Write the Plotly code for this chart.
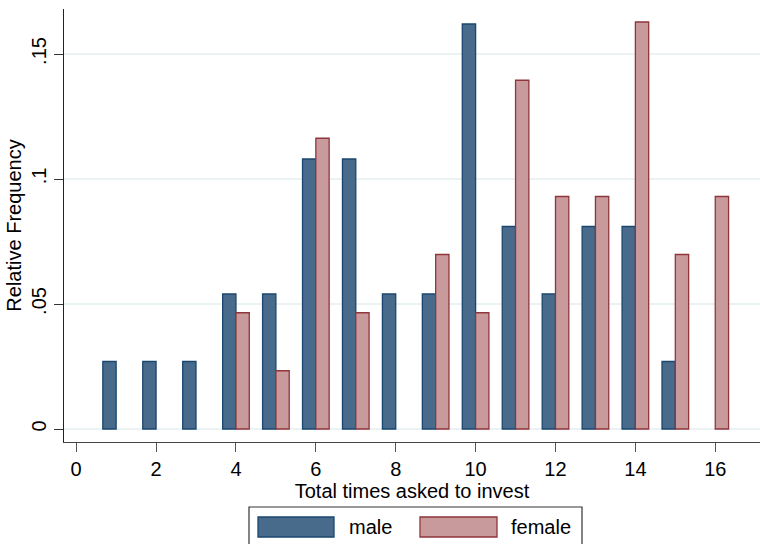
import plotly.graph_objects as go

# Times asked to invest (x positions of the bars)
times = list(range(1, 17))

# Relative frequency by sex (None = no observations at that count)
male_freq = [0.027, 0.027, 0.027, 0.054, 0.054, 0.108, 0.108, 0.054,
             0.054, 0.162, 0.081, 0.054, 0.081, 0.081, 0.027, None]
female_freq = [None, None, None, 0.0465, 0.0233, 0.1163, 0.0465, None,
               0.0698, 0.0465, 0.1395, 0.0930, 0.0930, 0.1628, 0.0698, 0.0930]

x_ticks = [0, 2, 4, 6, 8, 10, 12, 14, 16]
y_ticks = [0, 0.05, 0.1, 0.15]
y_tick_text = ["0", ".05", ".1", ".15"]

series_names = ["male", "female"]
fill_colors = ["#486a8b", "#c89a9c"]
line_colors = ["#1a476f", "#90353b"]

FONT = "Liberation Sans, Arial, sans-serif"
W, H = 760, 544
ML, MR, MT, MB = 64, 0, 9, 102

fig = go.Figure()
for name, vals, fc, lc in zip(series_names, [male_freq, female_freq],
                              fill_colors, line_colors):
    fig.add_trace(go.Bar(
        x=times, y=vals, name=name,
        marker=dict(color=fc, line=dict(color=lc, width=1.3)),
        showlegend=False,
    ))

fig.update_layout(
    width=W, height=H, autosize=False,
    margin=dict(l=ML, r=MR, t=MT, b=MB, pad=0),
    paper_bgcolor="white", plot_bgcolor="white",
    barmode="group", bargap=1/3, bargroupgap=0,
    font=dict(family=FONT, size=20, color="#000000"),
)

fig.update_xaxes(
    range=[-0.305, 17.12],
    tickmode="array", tickvals=x_ticks,
    ticks="outside", ticklen=9, tickwidth=1.3, tickcolor="#555555",
    showline=True, linecolor="#444444", linewidth=1.3,
    showgrid=False, zeroline=False,
    tickfont=dict(size=20),
    title=dict(text="Total times asked to invest", font=dict(size=20), standoff=0),
)
fig.update_yaxes(
    range=[-0.0052, 0.168],
    tickmode="array", tickvals=y_ticks, ticktext=y_tick_text,
    tickangle=-90,
    ticks="outside", ticklen=9, tickwidth=1.3, tickcolor="#333333",
    showline=True, linecolor="#222222", linewidth=1.3,
    showgrid=True, gridcolor="#eaf2f3", gridwidth=2,
    zeroline=False,
    tickfont=dict(size=20),
    title=dict(text="Relative Frequency", font=dict(size=20), standoff=0),
)

plot_w = W - ML - MR
plot_h = H - MT - MB


def px_x(p):
    return (p - ML) / plot_w


def px_y(p):
    return (H - MB - p) / plot_h


# Legend drawn as a framed box below the axis title
fig.add_shape(type="rect", xref="paper", yref="paper",
              x0=px_x(249), x1=px_x(582), y0=px_y(570), y1=px_y(507),
              line=dict(color="#333333", width=1.2), fillcolor="white")

key_specs = [(258, 334, 347), (420, 497, 509)]
for (k0, k1, tx), name, fc, lc in zip(key_specs, series_names,
                                       fill_colors, line_colors):
    fig.add_shape(type="rect", xref="paper", yref="paper",
                  x0=px_x(k0), x1=px_x(k1), y0=px_y(537), y1=px_y(517),
                  line=dict(color=lc, width=1.3), fillcolor=fc)
    fig.add_annotation(xref="paper", yref="paper", x=px_x(tx), y=px_y(527),
                       text=name, showarrow=False, xanchor="left",
                       yanchor="middle", font=dict(size=20, family=FONT))

fig.write_html("out.html")
